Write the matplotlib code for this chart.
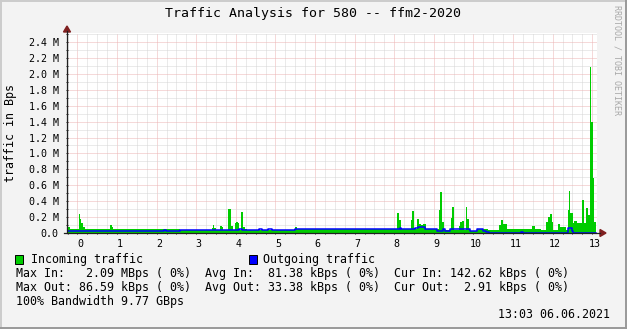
import numpy as np
import matplotlib
matplotlib.use('Agg')
import matplotlib.pyplot as plt
import matplotlib.transforms as mtransforms
from matplotlib.patches import Rectangle, Polygon
from matplotlib.lines import Line2D

# Incoming traffic (MBps), step changes: t_in[i] -> v_in[i], last t_in is the end
t_in = [-0.27, -0.19, 0.04, 0.06, 0.09, 0.14, 0.18, 0.37, 0.49, 0.82, 0.86, 0.90,
        0.93, 1.30, 1.35, 1.81, 1.86, 2.59, 3.39, 3.41, 3.45, 3.50, 3.60, 3.61,
        3.65, 3.67, 3.80, 3.88, 3.93, 3.98, 4.00, 4.05, 4.09, 4.14, 4.17, 4.19,
        4.23, 4.28, 5.49, 5.54, 8.07, 8.12, 8.17, 8.42, 8.46, 8.50, 8.57, 8.62,
        8.67, 8.72, 8.80, 9.13, 9.16, 9.21, 9.26, 9.43, 9.46, 9.51, 9.64, 9.66,
        9.71, 9.75, 9.81, 9.83, 9.88, 9.91, 10.09, 10.37, 10.64, 10.69, 10.74, 10.85,
        11.48, 11.55, 11.70, 11.83, 11.88, 11.93, 11.98, 12.02, 12.13, 12.18, 12.26, 12.33,
        12.38, 12.41, 12.43, 12.51, 12.55, 12.61, 12.69, 12.74, 12.79, 12.84, 12.89, 12.94,
        12.97, 13.01, 13.04, 13.09]
v_in = [0.07, 0.045, 0.24, 0.18, 0.12, 0.08, 0.045, 0.055, 0.045, 0.10, 0.07, 0.05,
        0.045, 0.05, 0.045, 0.05, 0.045, 0.035, 0.06, 0.10, 0.06, 0.035, 0.07, 0.09,
        0.07, 0.035, 0.30, 0.09, 0.035, 0.12, 0.14, 0.12, 0.035, 0.26, 0.47, 0.07,
        0.045, 0.035, 0.075, 0.05, 0.25, 0.16, 0.05, 0.16, 0.28, 0.05, 0.17, 0.11,
        0.10, 0.11, 0.045, 0.29, 0.51, 0.14, 0.04, 0.19, 0.33, 0.04, 0.09, 0.14,
        0.15, 0.04, 0.33, 0.17, 0.045, 0.03, 0.045, 0.04, 0.10, 0.16, 0.11, 0.045,
        0.09, 0.05, 0.04, 0.14, 0.20, 0.24, 0.14, 0.04, 0.11, 0.08, 0.07, 0.04,
        0.29, 0.53, 0.25, 0.12, 0.15, 0.12, 0.13, 0.41, 0.12, 0.31, 0.22, 2.09,
        1.39, 0.69, 0.14]

# Outgoing traffic (MBps)
t_out = [-0.27, 2.18, 2.23, 2.59, 4.08, 4.15, 4.58, 4.66, 4.80, 4.92, 5.49, 8.14,
         8.18, 8.52, 8.60, 8.72, 8.78, 9.08, 9.23, 9.28, 9.41, 9.91, 9.99, 10.09,
         10.24, 10.31, 10.39, 11.20, 11.25, 12.38, 12.48, 12.51, 13.09]
v_out = [0.025, 0.035, 0.025, 0.035, 0.045, 0.035, 0.045, 0.035, 0.045, 0.035, 0.05, 0.06,
         0.05, 0.06, 0.08, 0.07, 0.045, 0.03, 0.045, 0.03, 0.045, 0.03, 0.02, 0.045,
         0.03, 0.015, 0.004, 0.015, 0.004, 0.06, 0.03, 0.004]

x_ticks = list(range(0, 14))
y_ticks = [0.0, 0.2, 0.4, 0.6, 0.8, 1.0, 1.2, 1.4, 1.6, 1.8, 2.0, 2.2, 2.4]

title = "Traffic Analysis for 580 -- ffm2-2020"
line_in = "Max In:   2.09 MBps ( 0%)  Avg In:  81.38 kBps ( 0%)  Cur In: 142.62 kBps ( 0%)"
line_out = "Max Out: 86.59 kBps ( 0%)  Avg Out: 33.38 kBps ( 0%)  Cur Out:  2.91 kBps ( 0%)"
line_bw = "100% Bandwidth 9.77 GBps"
stamp = "13:03 06.06.2021"

W, H = 627, 329
MONO = 'DejaVu Sans Mono'
GREEN = '#00CC00'
BLUE = '#0000FF'


def fx(px):
    return px / W


def fy(py):
    return 1 - py / H


fig = plt.figure(figsize=(W / 100, H / 100), dpi=100, facecolor='#F3F3F3')
ax = fig.add_axes([fx(67), fy(233), fx(597) - fx(67), fy(32.5) - fy(233)])
ax.set_facecolor('white')

# data
ti = np.array(t_in)
vi = np.array(v_in + [v_in[-1]])
ax.fill_between(ti, 0, vi, step='post', color=GREEN, linewidth=0, zorder=2)
to = np.array(t_out)
vo = np.array(v_out + [v_out[-1]])
ax.step(to, vo, where='post', color=BLUE, linewidth=1.1, zorder=3)

ax.set_xlim(-0.265, 13.12)
ax.set_ylim(0, 2.52)
ax.set_xticks(x_ticks)
ax.set_xticks(np.arange(-0.25, 13.2, 0.25), minor=True)
ax.set_yticks(y_ticks)
ax.set_yticks(np.arange(0.1, 2.55, 0.2), minor=True)
ax.set_xticklabels([str(v) for v in x_ticks], fontsize=7.2, family=MONO)
ax.set_yticklabels(['0.0'] + ['%.1f M' % v for v in y_ticks[1:]], fontsize=7.2, family=MONO)
ax.tick_params(which='both', length=2, width=0.7, color='#202020', direction='inout')
ax.tick_params(axis='x', pad=3)
ax.tick_params(axis='y', pad=5)

# rrdtool puts the hour labels a little right of the grid line
shift = mtransforms.ScaledTranslation(2.5 / 100, 0, fig.dpi_scale_trans)
for lab in ax.get_xticklabels():
    lab.set_transform(lab.get_transform() + shift)

ax.set_axisbelow(True)
ax.grid(which='minor', color='#D6D6D6', linestyle=(0, (1, 1)), linewidth=0.72)
ax.grid(which='major', color='#EDB4B4', linestyle=(0, (1, 1)), linewidth=0.72)

for s in ['top', 'right', 'bottom', 'left']:
    ax.spines[s].set_visible(False)

# axes with arrows
fig.add_artist(Line2D([fx(67), fx(67)], [fy(233), fy(31)], color='#202020', lw=0.9))
fig.add_artist(Line2D([fx(64), fx(600)], [fy(233), fy(233)], color='#202020', lw=0.9))
fig.add_artist(Polygon([[fx(67), fy(26)], [fx(63.5), fy(32)], [fx(70.5), fy(32)]],
                       closed=True, color='#7F1F1F', transform=fig.transFigure))
fig.add_artist(Polygon([[fx(606), fy(233)], [fx(600), fy(229.5)], [fx(600), fy(236.5)]],
                       closed=True, color='#7F1F1F', transform=fig.transFigure))

# texts
fig.text(fx(313), fy(13), title, ha='center', va='center', fontsize=9.5, family=MONO)
fig.text(fx(11), fy(133), 'traffic in Bps', ha='center', va='center', rotation=90,
         fontsize=8.4, family=MONO)
fig.text(fx(617), fy(5), 'RRDTOOL / TOBI OETIKER', ha='center', va='top', rotation=270,
         fontsize=6, family=MONO, color='#A8A8A8')

fig.add_artist(Rectangle((fx(15), fy(263.5)), 8 / W, 9 / H, facecolor=GREEN,
                         edgecolor='black', lw=0.7, transform=fig.transFigure))
fig.text(fx(31), fy(259), 'Incoming traffic', ha='left', va='center', fontsize=8.4, family=MONO)
fig.add_artist(Rectangle((fx(248.5), fy(263.5)), 8 / W, 9 / H, facecolor=BLUE,
                         edgecolor='black', lw=0.7, transform=fig.transFigure))
fig.text(fx(263), fy(259), 'Outgoing traffic', ha='left', va='center', fontsize=8.4, family=MONO)
fig.text(fx(16), fy(273.5), line_in, ha='left', va='center', fontsize=8.4, family=MONO)
fig.text(fx(16), fy(287.5), line_out, ha='left', va='center', fontsize=8.4, family=MONO)
fig.text(fx(16), fy(301.5), line_bw, ha='left', va='center', fontsize=8.4, family=MONO)
fig.text(fx(610), fy(315), stamp, ha='right', va='center', fontsize=8.4, family=MONO)

# frame shading
fig.add_artist(Line2D([0, 1], [fy(0.5), fy(0.5)], color='#CBCBCB', lw=1.4))
fig.add_artist(Line2D([fx(0.5), fx(0.5)], [0, 1], color='#CBCBCB', lw=1.4))
fig.add_artist(Line2D([0, 1], [fy(328), fy(328)], color='#999999', lw=1.4))
fig.add_artist(Line2D([fx(626), fx(626)], [0, 1], color='#999999', lw=1.4))

fig.savefig('out.png', dpi=100, facecolor=fig.get_facecolor())
